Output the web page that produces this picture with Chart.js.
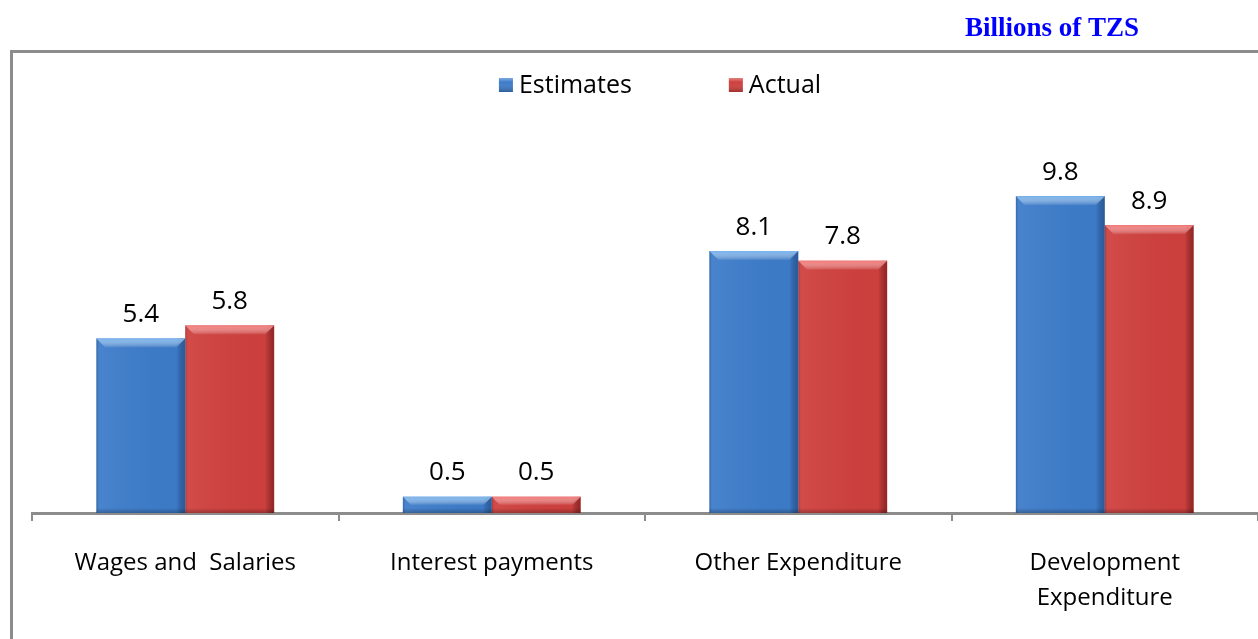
<!DOCTYPE html>
<html>
<head>
<meta charset="utf-8">
<script src="https://cdn.jsdelivr.net/npm/chart.js@4/dist/chart.umd.min.js"></script>
<style>
  html, body { margin: 0; padding: 0; background: #fff; }
  #wrap { width: 1258px; height: 639px; position: relative; }
</style>
</head>
<body>
<div id="wrap"><canvas id="myChart" width="1258" height="639"></canvas></div>
<script>
const categories = ["Wages and  Salaries", "Interest payments", "Other Expenditure", ["Development", "Expenditure"]];
const estimates = [5.4, 0.5, 8.1, 9.8];
const actual = [5.8, 0.5, 7.8, 8.9];

const labelFont = "'Open Sans', 'Noto Sans', sans-serif";
const frameColor = "#8c8c8c";

// bar shading: flat fill plus a bevel on top and darker sides
const shades = {
  "#3d7cca": { light: "#78b4ee", dark: "rgba(20,50,100,0.45)" },
  "#cf403e": { light: "#f57a78", dark: "rgba(90,10,10,0.5)" }
};

const bevelPlugin = {
  id: "bevel",
  afterDatasetsDraw(chart) {
    const ctx = chart.ctx;
    chart.data.datasets.forEach((ds, i) => {
      const meta = chart.getDatasetMeta(i);
      const sh = shades[ds.backgroundColor];
      meta.data.forEach((bar) => {
        const l = bar.x - bar.width / 2, r = bar.x + bar.width / 2;
        const t = bar.y, b = bar.base;
        const h = b - t;
        const bev = Math.min(9, h / 2);
        ctx.save();
        // side shading
        let g = ctx.createLinearGradient(l, 0, r, 0);
        g.addColorStop(0, "rgba(0,0,0,0.18)");
        g.addColorStop(0.04, "rgba(255,255,255,0.06)");
        g.addColorStop(0.9, "rgba(0,0,0,0.02)");
        g.addColorStop(1, sh.dark);
        ctx.fillStyle = g;
        ctx.fillRect(l, t, r - l, h);
        // top bevel
        g = ctx.createLinearGradient(0, t, 0, t + bev);
        g.addColorStop(0, sh.light);
        g.addColorStop(1, "rgba(255,255,255,0.05)");
        ctx.fillStyle = g;
        ctx.beginPath();
        ctx.moveTo(l, t);
        ctx.lineTo(r, t);
        ctx.lineTo(r - bev, t + bev);
        ctx.lineTo(l + bev, t + bev);
        ctx.closePath();
        ctx.fill();
        // bottom edge
        g = ctx.createLinearGradient(0, b - 5, 0, b);
        g.addColorStop(0, "rgba(0,0,0,0)");
        g.addColorStop(1, "rgba(0,0,0,0.25)");
        ctx.fillStyle = g;
        ctx.fillRect(l, b - 5, r - l, 5);
        ctx.restore();
      });
    });
  }
};

const valueLabels = {
  id: "valueLabels",
  afterDatasetsDraw(chart) {
    const ctx = chart.ctx;
    ctx.save();
    ctx.font = "26px " + labelFont;
    ctx.fillStyle = "#000";
    ctx.textAlign = "center";
    ctx.textBaseline = "bottom";
    chart.data.datasets.forEach((ds, i) => {
      chart.getDatasetMeta(i).data.forEach((bar, j) => {
        ctx.fillText(ds.data[j].toFixed(1), bar.x, bar.y - 11);
      });
    });
    ctx.restore();
  }
};

const frameAndLegend = {
  id: "frameAndLegend",
  beforeDraw(chart) {
    const ctx = chart.ctx;
    ctx.save();
    ctx.fillStyle = "#fff";
    ctx.fillRect(0, 0, chart.width, chart.height);
    ctx.strokeStyle = frameColor;
    ctx.lineWidth = 3;
    ctx.beginPath();
    ctx.moveTo(11.5, chart.height + 2);
    ctx.lineTo(11.5, 51.5);
    ctx.lineTo(chart.width + 2, 51.5);
    ctx.stroke();

    ctx.font = "bold 27px 'Liberation Serif', 'Times New Roman', serif";
    ctx.fillStyle = "#0000ff";
    ctx.textAlign = "center";
    ctx.textBaseline = "middle";
    ctx.fillText("Billions of TZS", 1052, 29);
    ctx.restore();
  },
  afterDraw(chart) {
    const ctx = chart.ctx;
    ctx.save();
    ctx.font = "25px " + labelFont;
    ctx.textBaseline = "middle";
    ctx.textAlign = "left";
    const box = 14, gap = 6, spacing = 97, cy = 85;
    const items = chart.data.datasets.map((ds) => ({ text: ds.label, color: ds.backgroundColor }));
    const widths = items.map((it) => box + gap + ctx.measureText(it.text).width);
    const total = widths.reduce((a, b) => a + b, 0) + spacing * (items.length - 1);
    let x = 660 - total / 2;
    items.forEach((it, k) => {
      ctx.fillStyle = it.color;
      ctx.fillRect(x, cy - box / 2, box, box);
      const g = ctx.createLinearGradient(0, cy - box / 2, 0, cy + box / 2);
      g.addColorStop(0, "rgba(255,255,255,0.35)");
      g.addColorStop(0.3, "rgba(255,255,255,0)");
      g.addColorStop(1, "rgba(0,0,0,0.25)");
      ctx.fillStyle = g;
      ctx.fillRect(x, cy - box / 2, box, box);
      ctx.fillStyle = "#000";
      ctx.fillText(it.text, x + box + gap, cy + 1);
      x += widths[k] + spacing;
    });
    ctx.restore();
  }
};

new Chart(document.getElementById("myChart"), {
  type: "bar",
  data: {
    labels: categories,
    datasets: [
      { label: "Estimates", data: estimates, backgroundColor: "#3d7cca", borderWidth: 0 },
      { label: "Actual", data: actual, backgroundColor: "#cf403e", borderWidth: 0 }
    ]
  },
  options: {
    responsive: false,
    animation: false,
    layout: { padding: { top: 125, left: 32, right: 0, bottom: 0 } },
    categoryPercentage: 0.58,
    barPercentage: 1,
    plugins: {
      legend: { display: false },
      tooltip: { enabled: false }
    },
    scales: {
      x: {
        afterFit(scale) { scale.height = 126; },
        grid: {
          offset: true,
          drawOnChartArea: false,
          drawTicks: true,
          tickLength: 8,
          color: frameColor,
          lineWidth: 2
        },
        border: { display: true, color: frameColor, width: 3 },
        ticks: {
          color: "#000",
          font: { family: labelFont, size: 24, lineHeight: 1.45 },
          padding: 25,
          maxRotation: 0,
          autoSkip: false
        }
      },
      y: {
        display: false,
        min: 0,
        max: 12
      }
    }
  },
  plugins: [frameAndLegend, bevelPlugin, valueLabels]
});
</script>
</body>
</html>
